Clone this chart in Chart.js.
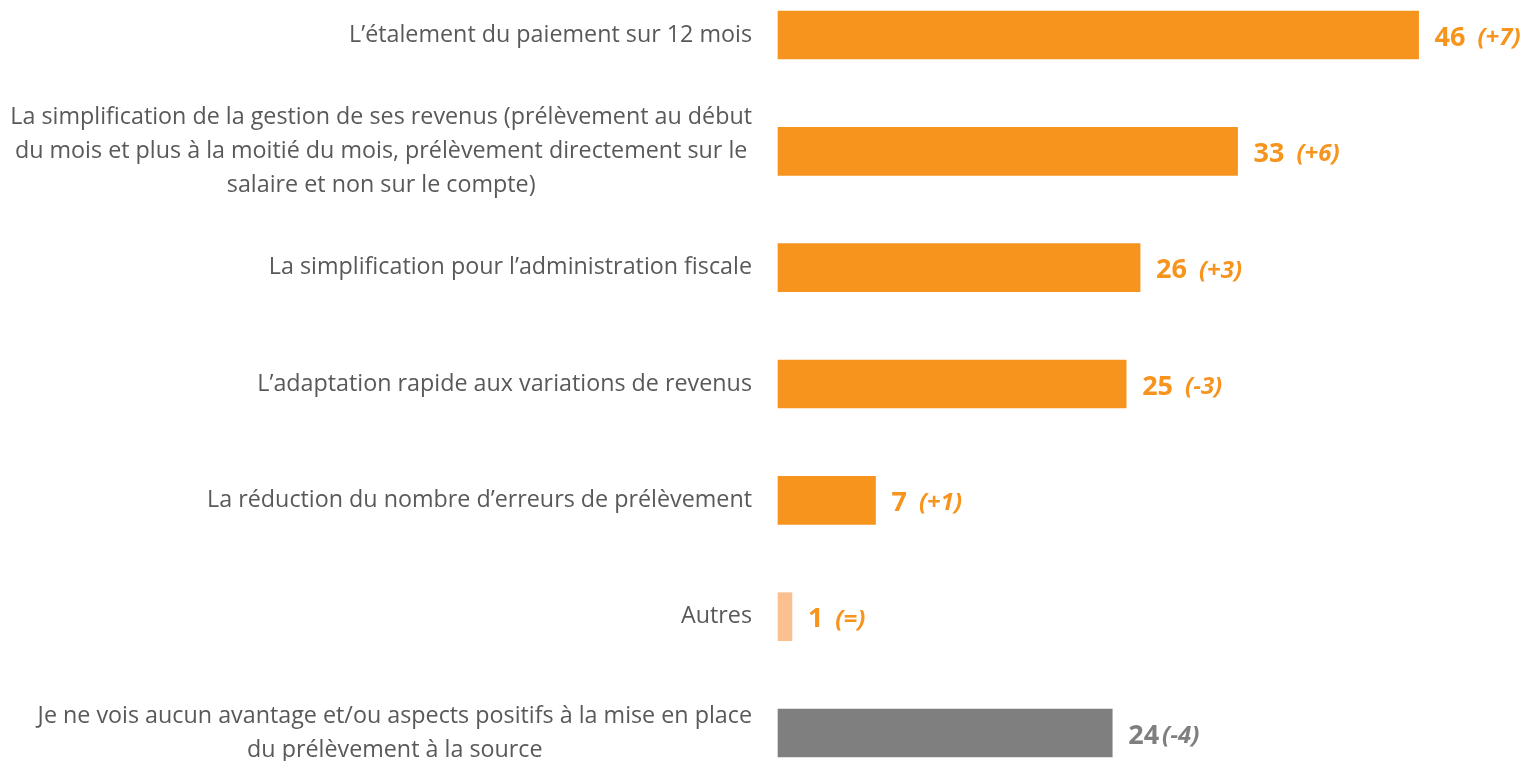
<!DOCTYPE html>
<html>
<head>
<meta charset="utf-8">
<script src="https://cdn.jsdelivr.net/npm/chart.js@4/dist/chart.umd.min.js"></script>
<style>
  html, body { margin: 0; padding: 0; background: #fff; }
  #wrap { width: 1530px; height: 761px; position: relative; }
</style>
</head>
<body>
<div id="wrap"><canvas id="chart"></canvas></div>
<script>
// Catégories (une entrée par ligne, tableau = plusieurs lignes)
const categories = [
  ['L\u2019étalement du paiement sur 12 mois'],
  ['La simplification de la gestion de ses revenus (prélèvement au début',
   'du mois et plus à la moitié du mois, prélèvement directement sur le',
   'salaire et non sur le compte)'],
  ['La simplification pour l\u2019administration fiscale'],
  ['L\u2019adaptation rapide aux variations de revenus'],
  ['La réduction du nombre d\u2019erreurs de prélèvement'],
  ['Autres'],
  ['Je ne vois aucun avantage et/ou aspects positifs à la mise en place',
   'du prélèvement à la source']
];
const values = [46, 33, 26, 25, 7, 1, 24];
const evolutions = ['(+7)', '(+6)', '(+3)', '(-3)', '(+1)', '(=)', '(-4)'];

// Couleurs
const barColors = ['#F7941D', '#F7941D', '#F7941D', '#F7941D', '#F7941D', '#FAC090', '#7F7F7F'];
const valueColors = ['#F7941D', '#F7941D', '#F7941D', '#F7941D', '#F7941D', '#F7941D', '#7F7F7F'];

const FONT = '"Open Sans", "DejaVu Sans", sans-serif';

// Plugin : libellés à gauche + valeurs à droite des barres
const labelsPlugin = {
  id: 'labelsPlugin',
  afterDatasetsDraw(chart) {
    const ctx = chart.ctx;
    const y = chart.scales.y;
    const meta = chart.getDatasetMeta(0);
    ctx.save();
    // libellés de catégories
    ctx.font = '23.3px ' + FONT;
    ctx.fillStyle = '#595959';
    ctx.textBaseline = 'middle';
    const rightEdge = chart.chartArea.left - 26;
    const lineH = 34;
    categories.forEach((lines, i) => {
      const cy = y.getPixelForValue(i);
      const widths = lines.map(l => ctx.measureText(l).width);
      const maxW = Math.max(...widths);
      const blockCenter = rightEdge - maxW / 2;
      ctx.textAlign = 'center';
      lines.forEach((l, j) => {
        const ly = cy + (j - (lines.length - 1) / 2) * lineH;
        ctx.fillText(l, blockCenter, ly);
      });
    });
    // valeurs
    meta.data.forEach((bar, i) => {
      const x0 = bar.x + 16;
      const cy = bar.y + 3;
      ctx.fillStyle = valueColors[i];
      ctx.textAlign = 'left';
      ctx.font = 'bold 27px ' + FONT;
      const num = String(values[i]);
      ctx.fillText(num, x0, cy);
      const w = ctx.measureText(num).width;
      ctx.font = 'italic bold 24px ' + FONT;
      ctx.fillText(evolutions[i], x0 + w + (i === 6 ? 3 : 12), cy);
    });
    ctx.restore();
  }
};

const ctx = document.getElementById('chart').getContext('2d');
const chart = new Chart(ctx, {
  type: 'bar',
  data: {
    labels: categories,
    datasets: [{
      data: values,
      backgroundColor: barColors,
      borderWidth: 0,
      barThickness: 48,
      clip: false
    }]
  },
  options: {
    indexAxis: 'y',
    responsive: true,
    maintainAspectRatio: false,
    animation: false,
    layout: { padding: { left: 778, right: 0, top: 35, bottom: 28 } },
    plugins: {
      legend: { display: false },
      tooltip: { enabled: false }
    },
    scales: {
      x: {
        display: false,
        min: 0,
        max: 54
      },
      y: {
        display: false,
        offset: false
      }
    }
  },
  plugins: [labelsPlugin]
});
</script>
</body>
</html>
